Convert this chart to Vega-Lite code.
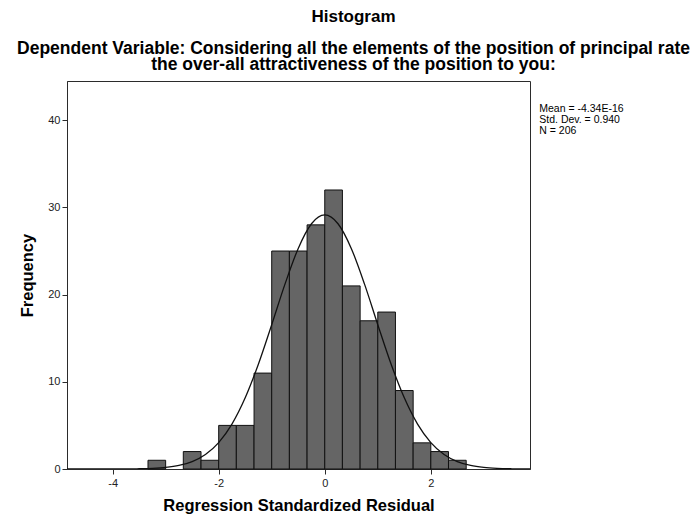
{
  "$schema": "https://vega.github.io/schema/vega-lite/v6.json",
  "width": 463,
  "height": 388,
  "autosize": {"type": "none"},
  "padding": {"left": 67, "top": 81, "right": 169, "bottom": 47},
  "background": "white",
  "title": {
    "text": "Histogram",
    "subtitle": [
      "Dependent Variable: Considering all the elements of the position of principal rate",
      "the over-all attractiveness of the position to you:"
    ],
    "anchor": "middle",
    "dx": 55,
    "font": "Liberation Sans",
    "fontSize": 17,
    "fontWeight": "bold",
    "color": "black",
    "subtitleFont": "Liberation Sans",
    "subtitleFontSize": 17.5,
    "subtitleFontWeight": "bold",
    "subtitleColor": "black",
    "subtitleLineHeight": 16,
    "subtitlePadding": 14,
    "offset": 7
  },
  "datasets": {
    "bins": [
      {"lo": -3.333, "hi": -3.0, "count": 1},
      {"lo": -2.667, "hi": -2.333, "count": 2},
      {"lo": -2.333, "hi": -2.0, "count": 1},
      {"lo": -2.0, "hi": -1.667, "count": 5},
      {"lo": -1.667, "hi": -1.333, "count": 5},
      {"lo": -1.333, "hi": -1.0, "count": 11},
      {"lo": -1.0, "hi": -0.667, "count": 25},
      {"lo": -0.667, "hi": -0.333, "count": 25},
      {"lo": -0.333, "hi": 0.0, "count": 28},
      {"lo": 0.0, "hi": 0.333, "count": 32},
      {"lo": 0.333, "hi": 0.667, "count": 21},
      {"lo": 0.667, "hi": 1.0, "count": 17},
      {"lo": 1.0, "hi": 1.333, "count": 18},
      {"lo": 1.333, "hi": 1.667, "count": 9},
      {"lo": 1.667, "hi": 2.0, "count": 3},
      {"lo": 2.0, "hi": 2.333, "count": 2},
      {"lo": 2.333, "hi": 2.667, "count": 1}
    ],
    "curve": [
      {"r": -4.86, "f": 0.0},
      {"r": -4.5, "f": 0.0003},
      {"r": -4.25, "f": 0.001},
      {"r": -4.0, "f": 0.0034},
      {"r": -3.75, "f": 0.0102},
      {"r": -3.5, "f": 0.0285},
      {"r": -3.25, "f": 0.074},
      {"r": -3.0, "f": 0.179},
      {"r": -2.75, "f": 0.404},
      {"r": -2.5, "f": 0.848},
      {"r": -2.25, "f": 1.661},
      {"r": -2.0, "f": 3.03},
      {"r": -1.75, "f": 5.15},
      {"r": -1.5, "f": 8.16},
      {"r": -1.25, "f": 12.04},
      {"r": -1.0, "f": 16.55},
      {"r": -0.75, "f": 21.2},
      {"r": -0.5, "f": 25.3},
      {"r": -0.25, "f": 28.13},
      {"r": 0.0, "f": 29.14},
      {"r": 0.25, "f": 28.13},
      {"r": 0.5, "f": 25.3},
      {"r": 0.75, "f": 21.2},
      {"r": 1.0, "f": 16.55},
      {"r": 1.25, "f": 12.04},
      {"r": 1.5, "f": 8.16},
      {"r": 1.75, "f": 5.15},
      {"r": 2.0, "f": 3.03},
      {"r": 2.25, "f": 1.661},
      {"r": 2.5, "f": 0.848},
      {"r": 2.75, "f": 0.404},
      {"r": 3.0, "f": 0.179},
      {"r": 3.25, "f": 0.074},
      {"r": 3.5, "f": 0.0285},
      {"r": 3.75, "f": 0.0102},
      {"r": 3.87, "f": 0.006}
    ],
    "stats": [
      {"label": ["Mean = -4.34E-16", "Std. Dev. = 0.940", "N = 206"]}
    ]
  },
  "config": {
    "view": {"stroke": "#2b2b2b", "strokeWidth": 1},
    "axis": {
      "grid": false,
      "domainColor": "#2b2b2b",
      "tickColor": "#2b2b2b",
      "tickSize": 5,
      "labelFont": "Liberation Sans",
      "labelFontSize": 11,
      "labelColor": "#222222",
      "labelExpr": "datum.value",
      "titleFont": "Liberation Sans",
      "titleFontSize": 16.5,
      "titleFontWeight": "bold",
      "titleColor": "black"
    }
  },
  "layer": [
    {
      "data": {"name": "bins"},
      "mark": {"type": "rect", "fill": "#656565", "stroke": "#111111", "strokeWidth": 1},
      "encoding": {
        "x": {
          "field": "lo",
          "type": "quantitative",
          "scale": {"domain": [-4.86, 3.87], "nice": false, "zero": false},
          "axis": {"values": [-4, -2, 0, 2], "title": "Regression Standardized Residual", "titlePadding": 9, "labelPadding": 3}
        },
        "x2": {"field": "hi"},
        "y": {
          "field": "count",
          "type": "quantitative",
          "scale": {"domain": [0, 44.5], "nice": false, "zero": true},
          "axis": {"values": [0, 10, 20, 30, 40], "title": "Frequency", "titlePadding": 12, "labelPadding": 2}
        },
        "y2": {"datum": 0}
      }
    },
    {
      "data": {"name": "curve"},
      "mark": {"type": "line", "color": "#111111", "strokeWidth": 1.3, "interpolate": "monotone", "clip": true},
      "encoding": {
        "x": {"field": "r", "type": "quantitative", "scale": {"domain": [-4.86, 3.87], "nice": false, "zero": false}},
        "y": {"field": "f", "type": "quantitative", "scale": {"domain": [0, 44.5], "nice": false, "zero": true}}
      }
    },
    {
      "data": {"name": "stats"},
      "mark": {"type": "text", "align": "left", "baseline": "alphabetic", "font": "Liberation Sans", "fontSize": 10.5, "lineHeight": 10.8, "color": "black"},
      "encoding": {
        "x": {"datum": 4.045, "type": "quantitative", "scale": {"domain": [-4.86, 3.87], "nice": false, "zero": false}},
        "y": {"datum": 40.9, "type": "quantitative", "scale": {"domain": [0, 44.5], "nice": false, "zero": true}},
        "text": {"field": "label"}
      }
    }
  ]
}
